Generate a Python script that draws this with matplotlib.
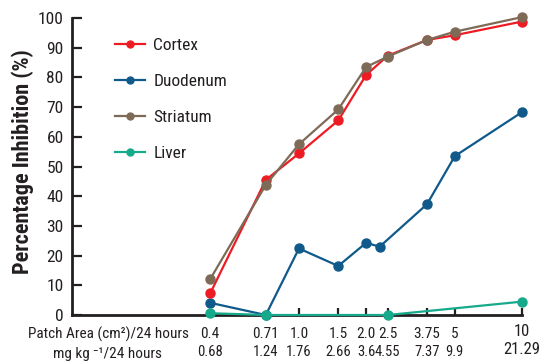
import matplotlib
matplotlib.use("Agg")
import matplotlib.pyplot as plt
import matplotlib.transforms as mtransforms
from matplotlib.lines import Line2D

plt.rcParams['font.family'] = ['Roboto Condensed', 'IBM Plex Sans Condensed', 'DejaVu Sans']

# Data
patch_area = [0.4, 0.71, 1.0, 1.5, 2.0, 2.5, 3.75, 5, 10]
patch_labels = ["0.4", "0.71", "1.0", "1.5", "2.0", "2.5", "3.75", "5", "10"]
dose_labels = ["0.68", "1.24", "1.76", "2.66", "3.6", "4.55", "7.37", "9.9", "21.29"]

cortex_x = [0.4, 0.71, 1.0, 1.5, 2.0, 2.5, 3.75, 5, 10]
cortex_y = [7.3, 45.5, 54.4, 65.5, 80.8, 87.3, 92.6, 94.2, 98.8]

duodenum_x = [0.4, 0.71, 1.0, 1.5, 2.0, 2.3, 3.75, 5, 10]
duodenum_y = [4.1, 0.0, 22.4, 16.5, 24.3, 23.0, 37.3, 53.5, 68.3]

striatum_x = [0.4, 0.71, 1.0, 1.5, 2.0, 2.5, 3.75, 5, 10]
striatum_y = [12.1, 43.8, 57.5, 69.2, 83.5, 87.0, 92.6, 95.4, 100.3]

liver_x = [0.4, 0.71, 2.5, 10]
liver_y = [0.6, 0.0, 0.0, 4.5]

c_cortex = "#ED1C24"
c_duo = "#0F5A8A"
c_str = "#7D6B58"
c_liv = "#16A98B"
c_txt = "#231F20"

fig = plt.figure(figsize=(5.42, 3.62), dpi=100)
ax = fig.add_axes([72/542, 1-315/362, 450/542, 297/362])

kw = dict(lw=1.6, marker='o', ms=6.5, clip_on=False)
ax.plot(duodenum_x, duodenum_y, color=c_duo, zorder=3, **kw)
ax.plot(cortex_x, cortex_y, color=c_cortex, zorder=4, **kw)
ax.plot(striatum_x, striatum_y, color=c_str, zorder=5, **kw)
ax.plot(liver_x, liver_y, color=c_liv, zorder=6, **kw)

ax.set_xscale('log')
ax.set_xlim(0.096, 10)
ax.set_ylim(0, 100)
ax.spines['top'].set_visible(False)
ax.spines['right'].set_visible(False)
for s in ['left', 'bottom']:
    ax.spines[s].set_linewidth(2.0)
    ax.spines[s].set_color(c_txt)

ax.set_yticks(range(0, 101, 10))
ax.tick_params(axis='y', direction='in', length=7, width=1.6, color=c_txt,
               labelsize=12.5, pad=6, labelcolor=c_txt)
ax.set_xticks(patch_area[2:])
ax.xaxis.set_minor_locator(matplotlib.ticker.NullLocator())
ax.tick_params(axis='x', direction='in', length=5, width=1.6, color=c_txt,
               labelbottom=False)

ax.set_ylabel("Percentage Inhibition (%)", fontsize=16, fontweight='bold',
              color=c_txt)
ax.yaxis.set_label_coords(-(72-34)/450, (315-162)/297)

trans = mtransforms.blended_transform_factory(ax.transData, ax.transAxes)
row1 = -19/297
row2 = -38/297
for x, l1, l2 in zip(patch_area, patch_labels, dose_labels):
    big = (x == 10)
    dy = 3/297 if big else 0
    fs = 12 if big else 11
    ax.text(x, row1 + dy, l1, transform=trans, ha='center', va='center',
            fontsize=fs, color=c_txt)
    ax.text(x, row2 + 1/297 + dy, l2, transform=trans, ha='center', va='center',
            fontsize=fs if big else 10.5, color=c_txt)
fig.text(189/542, 1-334/362, "Patch Area (cm²)/24 hours",
         ha='right', va='center', fontsize=11, color=c_txt)
fig.text(162/542, 1-354/362, "mg kg ⁻¹/24 hours",
         ha='right', va='center', fontsize=11, color=c_txt)

handles = [Line2D([], [], color=c, lw=1.6, marker='o', ms=5) for c in
           [c_cortex, c_duo, c_str, c_liv]]
ax.legend(handles, ["Cortex", "Duodenum", "Striatum", "Liver"],
          loc='upper left', bbox_to_anchor=((115-72)/450, (315-38)/297),
          frameon=False, borderpad=0, borderaxespad=0,
          fontsize=12.5, handlelength=1.75, handletextpad=0.45, labelspacing=1.2,
          labelcolor=c_txt)

fig.savefig("out.png", dpi=100)
